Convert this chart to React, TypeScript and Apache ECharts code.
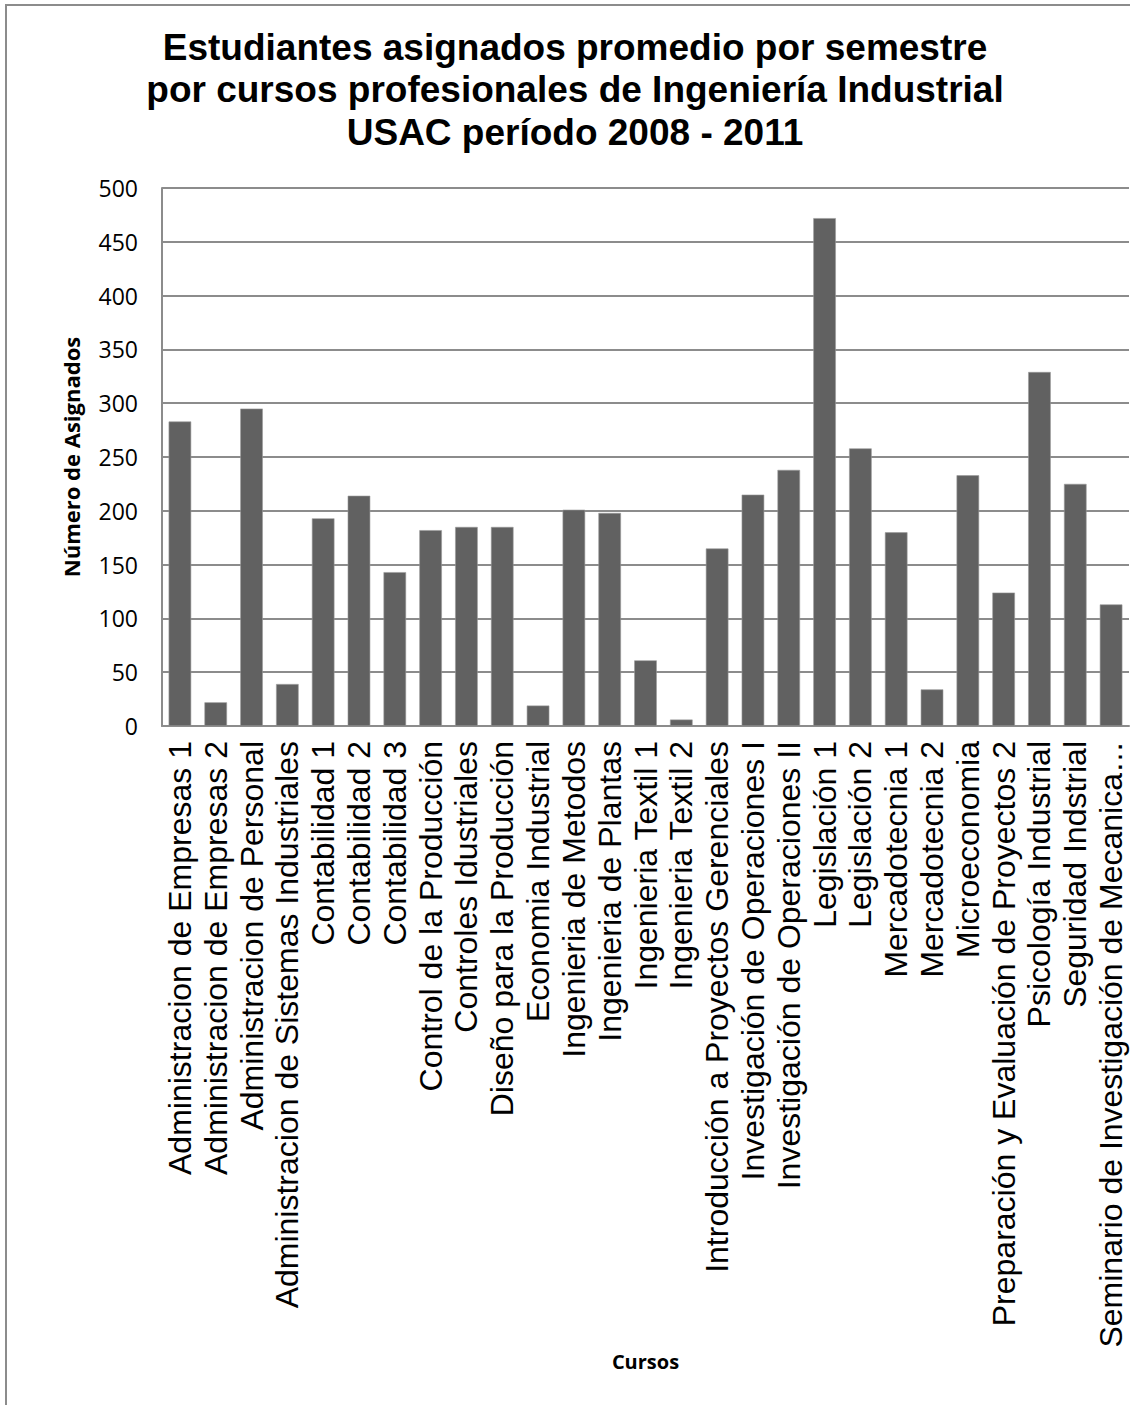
import React, { useEffect, useRef } from "react";
import * as echarts from "echarts";

const titleLines = [
  "Estudiantes asignados promedio por semestre",
  "por cursos profesionales de Ingeniería Industrial",
  "USAC período 2008 - 2011",
];

const categories = [
  "Administracion de Empresas 1",
  "Administracion de Empresas 2",
  "Administracion de Personal",
  "Administracion de Sistemas Industriales",
  "Contabilidad 1",
  "Contabilidad 2",
  "Contabilidad 3",
  "Control de la Producción",
  "Controles Idustriales",
  "Diseño para la Producción",
  "Economia Industrial",
  "Ingenieria de Metodos",
  "Ingenieria de Plantas",
  "Ingenieria Textil 1",
  "Ingenieria Textil 2",
  "Introducción a Proyectos Gerenciales",
  "Investigación de Operaciones I",
  "Investigación de Operaciones II",
  "Legislación 1",
  "Legislación 2",
  "Mercadotecnia 1",
  "Mercadotecnia 2",
  "Microeconomia",
  "Preparación y Evaluación de Proyectos 2",
  "Psicología Industrial",
  "Seguridad Indstrial",
  "Seminario de Investigación de Mecanica…",
];

const asignados = [
  283, 22, 295, 39, 193, 214, 143, 182, 185, 185, 19, 201, 198, 61, 6, 165,
  215, 238, 472, 258, 180, 34, 233, 124, 329, 225, 113,
];

const yTicks = { min: 0, max: 500, interval: 50 };

const yAxisTitle = "Número de Asignados";
const xAxisTitle = "Cursos";

export default function App() {
  const ref = useRef<HTMLDivElement>(null);

  useEffect(() => {
    if (!ref.current) return;
    const chart = echarts.init(ref.current, null, { renderer: "svg" });
    const gridColor = "#8c8c8c";
    chart.setOption({
      animation: false,
      backgroundColor: "#ffffff",
      grid: { left: 162, right: 1, top: 188, bottom: 679, containLabel: false },
      graphic: [
        {
          type: "rect",
          shape: { x: 6, y: 5, width: 1300, height: 1600 },
          style: { fill: "none", stroke: gridColor, lineWidth: 2 },
          silent: true,
        },
        ...titleLines.map((t, i) => ({
          type: "text",
          x: 575,
          y: 47 + i * 42.5,
          style: {
            text: t,
            fontFamily: "Liberation Sans",
            fontWeight: "bold",
            fontSize: 37,
            fill: "#000",
            textAlign: "center",
            textVerticalAlign: "middle",
          },
        })),
      ],
      xAxis: {
        type: "category",
        data: categories,
        name: xAxisTitle,
        nameLocation: "middle",
        nameGap: 612,
        nameTextStyle: {
          fontFamily: "Open Sans",
          fontWeight: "bold",
          fontSize: 20,
          color: "#000",
        },
        axisLine: { lineStyle: { color: gridColor, width: 2 } },
        axisTick: { show: false },
        axisLabel: {
          interval: 0,
          rotate: 90,
          margin: 15,
          fontFamily: "Liberation Sans",
          fontSize: 32,
          color: "#000",
        },
      },
      yAxis: {
        type: "value",
        min: yTicks.min,
        max: yTicks.max,
        interval: yTicks.interval,
        name: yAxisTitle,
        nameLocation: "middle",
        nameGap: 80,
        nameRotate: 90,
        nameTextStyle: {
          fontFamily: "Open Sans",
          fontWeight: "bold",
          fontSize: 22,
          color: "#000",
        },
        axisLine: { show: true, lineStyle: { color: gridColor, width: 2 } },
        axisTick: { show: false },
        splitLine: { lineStyle: { color: gridColor, width: 2 } },
        axisLabel: {
          margin: 24,
          fontFamily: "Open Sans",
          fontSize: 23,
          color: "#000",
        },
      },
      series: [
        {
          type: "bar",
          data: asignados,
          barCategoryGap: "37%",
          itemStyle: { color: "#616161", borderColor: "#9a9a9a", borderWidth: 0.6 },
        },
      ],
    });
    return () => chart.dispose();
  }, []);

  return (
    <div
      ref={ref}
      style={{ position: "absolute", left: 0, top: 0, width: 1130, height: 1405 }}
    />
  );
}
